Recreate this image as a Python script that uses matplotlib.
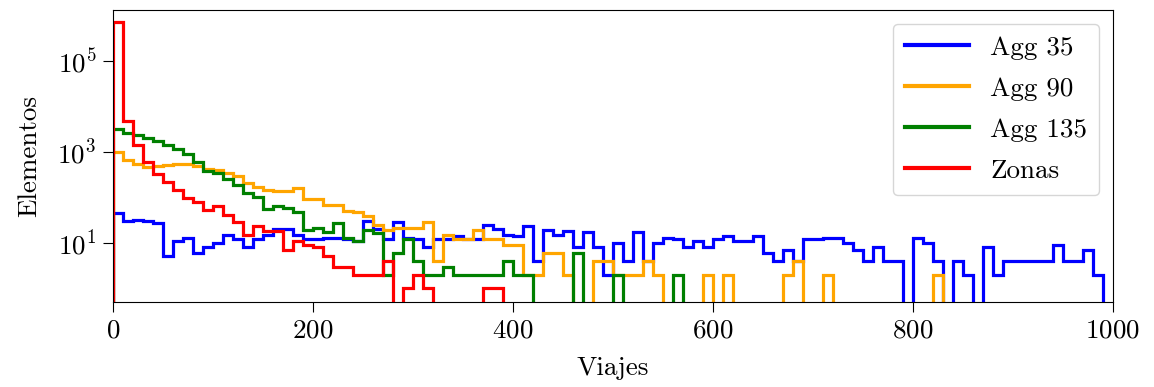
import matplotlib
matplotlib.use("Agg")
import matplotlib.pyplot as plt
from matplotlib.lines import Line2D
from matplotlib.ticker import FixedLocator, NullLocator
import numpy as np

plt.rcParams['font.family'] = 'serif'
plt.rcParams['font.serif'] = ['cmr10']
plt.rcParams['mathtext.fontset'] = 'cm'
plt.rcParams['axes.formatter.use_mathtext'] = True
plt.rcParams['font.size'] = 19.5
plt.rcParams['xtick.major.size'] = 7
plt.rcParams['ytick.major.size'] = 7
plt.rcParams['xtick.major.pad'] = 5
plt.rcParams['ytick.major.pad'] = 5

# bin edges: width 10, from 0 to 990
edges = np.arange(0, 1000, 10)

blue_counts = [45, 30, 32, 30, 27, 5, 11, 13, 6, 8,
               10, 15, 12, 8, 12, 15, 20, 20, 15, 12,
               12, 13, 13, 12, 11, 30, 20, 12, 28, 13,
               12, 8, 12, 12, 14, 12, 12, 25, 20, 15,
               14, 23, 4, 19, 15, 18, 8, 17, 8, 2,
               10, 4, 17, 4, 10, 13, 12, 8, 11, 8,
               12, 14, 11, 11, 14, 6, 4, 7, 4, 12,
               12, 13, 13, 10, 7, 4, 8, 4, 4, 0,
               13, 10, 4, 0, 4, 2, 0, 8, 2, 4,
               4, 4, 4, 4, 9, 4, 4, 7, 2]

orange_counts = [966, 663, 544, 452, 492, 516, 544, 544, 476, 416,
                 390, 339, 286, 205, 172, 146, 134, 140, 158, 91,
                 91, 68, 68, 50, 47, 38, 25, 19, 21, 21,
                 21, 28, 4, 15, 12, 12, 19, 12, 12, 9,
                 9, 2, 2, 6, 6, 2, 0, 0, 4, 4,
                 2, 2, 2, 4, 2, 0, 0, 0, 0, 2,
                 0, 2, 0, 0, 0, 0, 0, 2, 4, 0,
                 0, 2, 0, 0, 0, 0, 0, 0, 0, 0,
                 0, 0, 2, 0, 0, 0, 0, 0, 0, 0,
                 0, 0, 0, 0, 0, 0, 0, 0, 0]

green_counts = [3200, 2570, 2360, 2000, 1740, 1420, 1140, 905, 590, 369,
                339, 251, 188, 127, 99, 55, 63, 58, 47, 19,
                21, 17, 27, 13, 11, 19, 16, 2, 6, 12,
                4, 2, 2, 3, 2, 2, 2, 2, 2, 4,
                2, 2, 0, 0, 0, 0, 6, 0, 0, 0,
                2, 0, 0, 0, 0, 0, 2, 0, 0, 0] + [0] * 39

red_counts = [700000, 4800, 1400, 610, 330, 220, 146, 96, 78, 53,
              63, 41, 29, 15, 23, 18, 18, 7, 11, 9,
              8, 5, 3, 3, 2, 2, 2, 4, 0, 1,
              2, 1, 0, 0, 0, 0, 0, 1, 1] + [0] * 60

series = [("Agg 35", blue_counts, "blue"),
          ("Agg 90", orange_counts, "orange"),
          ("Agg 135", green_counts, "green"),
          ("Zonas", red_counts, "red")]

fig = plt.figure(figsize=(11.54, 3.87), dpi=100)
ax = fig.add_axes([113 / 1154, 1 - 302 / 387, 1000 / 1154, 292 / 387])

handles = []
for label, counts, color in series:
    ax.hist(edges[:-1], bins=edges, weights=counts, histtype='step',
            log=True, color=color, linewidth=2.3)
    handles.append(Line2D([], [], color=color, linewidth=3, label=label))

ax.set_xlim(0, 1000)
ax.set_ylim(0.5, 1.3e6)
ax.yaxis.set_major_locator(FixedLocator([1e1, 1e3, 1e5]))
ax.yaxis.set_minor_locator(NullLocator())
ax.set_xlabel('Viajes', labelpad=10)
ax.set_ylabel('Elementos', labelpad=12)
ax.legend(handles=handles, loc='upper right', handlelength=2.35,
          labelspacing=0.63, handletextpad=0.8, borderpad=0.45,
          borderaxespad=0.5)

fig.savefig('out.png', dpi=100)
